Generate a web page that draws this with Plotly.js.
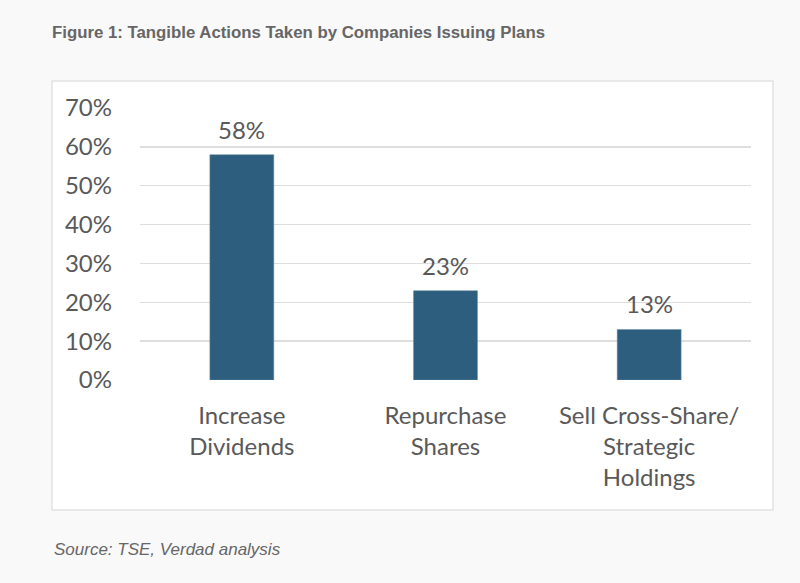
<!DOCTYPE html>
<html>
<head>
<meta charset="utf-8">
<script src="https://cdn.plot.ly/plotly-3.0.1.min.js"></script>
<style>html,body{margin:0;padding:0;background:#f9f9f9;}#chart{width:800px;height:583px;}</style>
</head>
<body>
<div id="chart"></div>
<script>
const categories = ["Increase<br>Dividends", "Repurchase<br>Shares", "Sell Cross-Share/<br>Strategic<br>Holdings"];
const values = [0.58, 0.23, 0.13];
const valueLabels = ["58%", "23%", "13%"];
const tickVals = [0, 0.1, 0.2, 0.3, 0.4, 0.5, 0.6, 0.7];
const tickText = ["0%", "10%", "20%", "30%", "40%", "50%", "60%", "70%"];

const textColor = "#595959";
const fontFam = "Lato, 'Open Sans', sans-serif";

const trace = {
  type: "bar",
  x: categories,
  y: values,
  marker: {color: "#2E5E7D", line: {color: "#6a8fa8", width: 0.5}},
  hoverinfo: "none"
};

const valueAnns = categories.map((c, i) => ({
  x: c, y: values[i], xref: "x", yref: "y",
  text: valueLabels[i], showarrow: false,
  yanchor: "bottom", yshift: 9,
  font: {family: fontFam, size: 24, color: textColor}
}));

const layout = {
  width: 800, height: 583,
  paper_bgcolor: "#f9f9f9",
  plot_bgcolor: "rgba(0,0,0,0)",
  margin: {l: 140, r: 49, t: 108, b: 203},
  bargap: 0.686,
  showlegend: false,
  xaxis: {
    tickfont: {family: fontFam, size: 24, color: textColor},
    showgrid: false, zeroline: false, showline: false, ticks: "",
    ticklabelstandoff: 19
  },
  yaxis: {
    range: [0, 0.7],
    tickvals: tickVals, ticktext: tickText,
    tickfont: {family: fontFam, size: 24, color: textColor},
    showgrid: true, gridcolor: "#dedede", gridwidth: 1.5,
    zeroline: false, showline: false, ticks: "",
    ticklabelstandoff: 27
  },
  shapes: [{
    type: "rect", xref: "paper", yref: "paper", layer: "below",
    x0: -88/611, x1: 22/611 + 1, y0: -130/272, y1: 1 + 27/272,
    fillcolor: "#ffffff", line: {color: "#e2e2e2", width: 1.5}
  }],
  annotations: valueAnns.concat([
    {xref: "paper", yref: "paper", x: -90/611, y: 1 + 75/272, xanchor: "left", yanchor: "middle",
     text: "<b>Figure 1: Tangible Actions Taken by Companies Issuing Plans</b>", showarrow: false,
     font: {family: "Liberation Sans, Arial, sans-serif", size: 16.8, color: "#666666"}},
    {xref: "paper", yref: "paper", x: -88/611, y: -169/272, xanchor: "left", yanchor: "middle",
     text: "<i>Source: TSE, Verdad analysis</i>", showarrow: false,
     font: {family: "Liberation Sans, Arial, sans-serif", size: 17, color: "#666666"}}
  ])
};

Plotly.newPlot("chart", [trace], layout, {displayModeBar: false, staticPlot: true});
</script>
</body>
</html>
